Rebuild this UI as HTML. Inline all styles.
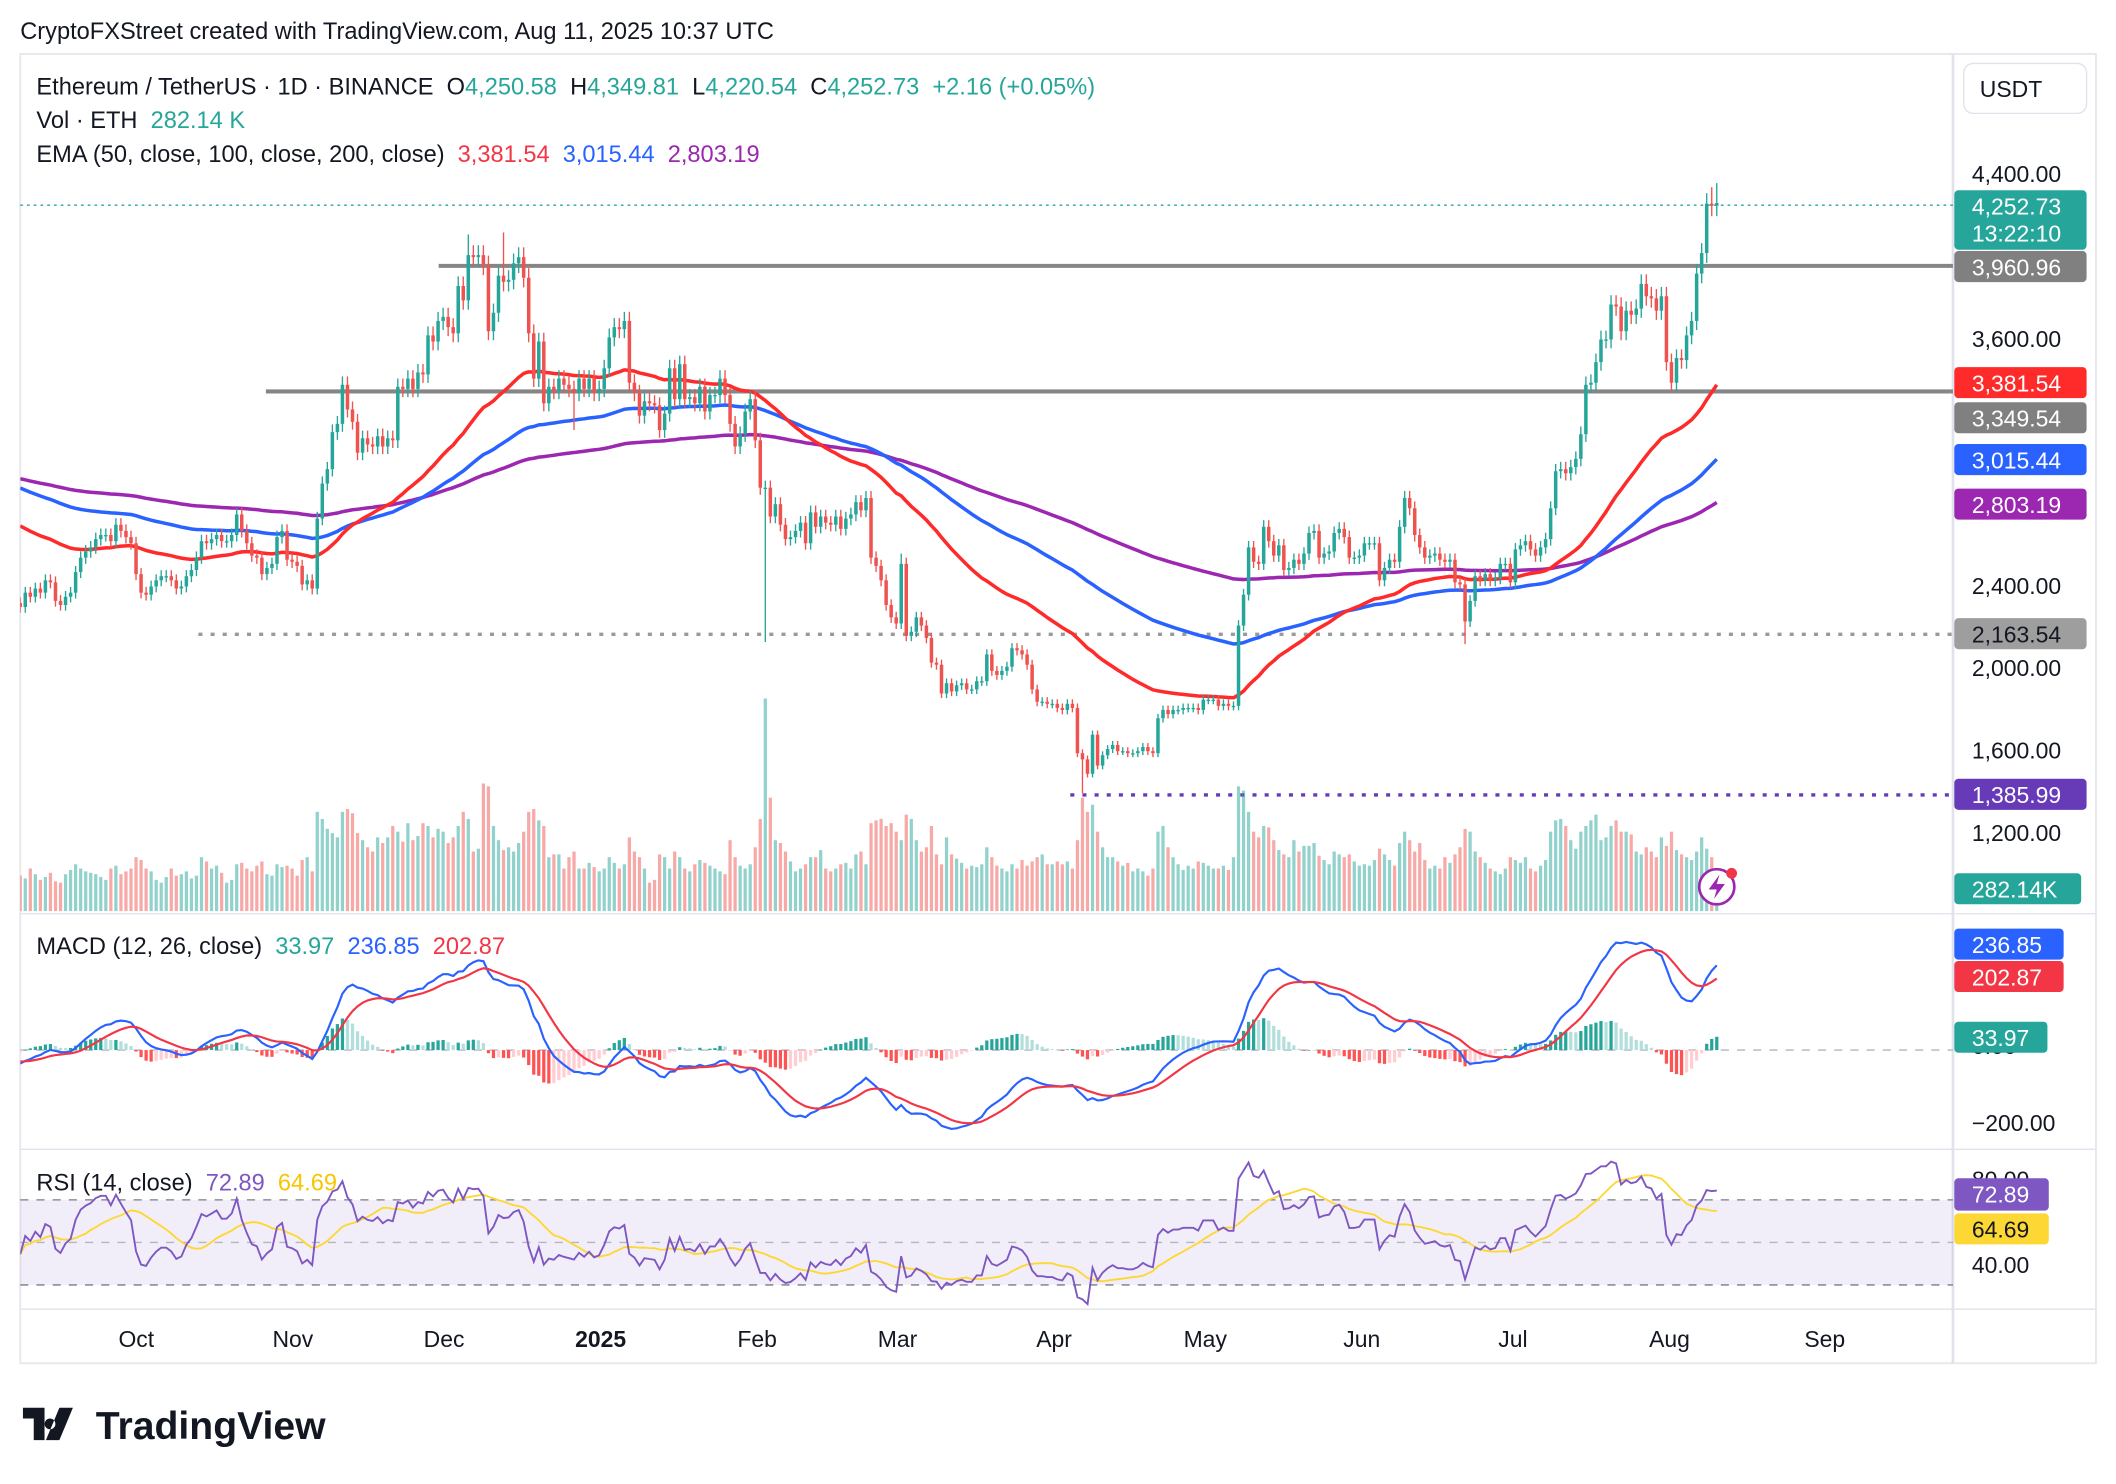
<!DOCTYPE html>
<html><head><meta charset="utf-8"><title>ETH/USDT chart</title>
<style>
html,body{margin:0;padding:0;background:#fff;}
svg{display:block;font-family:"Liberation Sans",sans-serif;}
svg text{white-space:pre;}
</style></head>
<body>
<svg id="chart" width="2116" height="1484" viewBox="0 0 1567.8 1099.5" preserveAspectRatio="none" xmlns="http://www.w3.org/2000/svg">
<defs>
<clipPath id="cpPrice"><rect x="15" y="41" width="1432" height="636"/></clipPath>
<clipPath id="cpMacd"><rect x="15" y="678" width="1432" height="173"/></clipPath>
<clipPath id="cpRsi"><rect x="15" y="852" width="1432" height="118"/></clipPath>
</defs>
<rect x="0" y="0" width="1580" height="1110" fill="#fff"/>
<text x="15" y="29" font-size="17.5" fill="#131722">CryptoFXStreet created with TradingView.com, Aug 11, 2025 10:37 UTC</text>
<rect x="15" y="40" width="1538" height="970" fill="none" stroke="#e8e9ed" stroke-width="1.5"/>
<line x1="1447" y1="40" x2="1447" y2="1010" stroke="#e0e3eb" stroke-width="2"/>
<line x1="15" y1="677" x2="1553" y2="677" stroke="#e0e3eb" stroke-width="1"/>
<line x1="15" y1="851.5" x2="1553" y2="851.5" stroke="#e0e3eb" stroke-width="1"/>
<line x1="15" y1="970" x2="1553" y2="970" stroke="#e0e3eb" stroke-width="1"/>

<rect x="15" y="889" width="1432" height="63" fill="#7e57c2" fill-opacity="0.1"/>
<g stroke="#787b86" stroke-width="1" stroke-dasharray="6,6">
<line x1="15" y1="889" x2="1447" y2="889"/><line x1="15" y1="920.5" x2="1447" y2="920.5" stroke-opacity="0.5"/><line x1="15" y1="952" x2="1447" y2="952"/>
</g>
<line x1="15" y1="778" x2="1447" y2="778" stroke="#b2b5be" stroke-width="1" stroke-dasharray="6,6"/>

<line x1="325" y1="197" x2="1447" y2="197" stroke="#868686" stroke-width="3"/>
<line x1="197" y1="290" x2="1447" y2="290" stroke="#868686" stroke-width="3"/>
<line x1="147" y1="470" x2="1447" y2="470" stroke="#9a9a9a" stroke-width="2.5" stroke-dasharray="3,6"/>
<line x1="793" y1="589" x2="1447" y2="589" stroke="#673ab7" stroke-width="2.5" stroke-dasharray="3,6"/>
<line x1="15" y1="152" x2="1447" y2="152" stroke="#26a69a" stroke-width="1" stroke-dasharray="2,3"/>

<g id="gVol" clip-path="url(#cpPrice)"></g>
<g id="gEma" clip-path="url(#cpPrice)"></g>
<g id="gCandle" clip-path="url(#cpPrice)"></g>
<g id="gMacd" clip-path="url(#cpMacd)"></g>
<g id="gRsi" clip-path="url(#cpRsi)"></g>

<text x="27" y="70" font-size="17.5" fill="#131722">Ethereum / TetherUS · 1D · BINANCE  O<tspan fill="#26a69a">4,250.58</tspan>  H<tspan fill="#26a69a">4,349.81</tspan>  L<tspan fill="#26a69a">4,220.54</tspan>  C<tspan fill="#26a69a">4,252.73</tspan>  <tspan fill="#26a69a">+2.16 (+0.05%)</tspan></text>
<text x="27" y="95" font-size="17.5" fill="#131722">Vol · ETH  <tspan fill="#26a69a">282.14 K</tspan></text>
<text x="27" y="120" font-size="17.5" fill="#131722">EMA (50, close, 100, close, 200, close)  <tspan fill="#f23645">3,381.54</tspan>  <tspan fill="#2962ff">3,015.44</tspan>  <tspan fill="#9c27b0">2,803.19</tspan></text>
<text x="27" y="707" font-size="17.5" fill="#131722">MACD (12, 26, close)  <tspan fill="#26a69a">33.97</tspan>  <tspan fill="#2962ff">236.85</tspan>  <tspan fill="#f23645">202.87</tspan></text>
<text x="27" y="882" font-size="17.5" fill="#131722">RSI (14, close)  <tspan fill="#7e57c2">72.89</tspan>  <tspan fill="#f7c600">64.69</tspan></text>

<rect x="1455" y="47" width="91" height="37" rx="7" fill="#fff" stroke="#e0e3eb"/>
<text x="1490" y="72" font-size="17" fill="#131722" text-anchor="middle">USDT</text>
<g font-size="17" fill="#131722">
<text x="1461" y="135">4,400.00</text><text x="1461" y="257">3,600.00</text><text x="1461" y="440">2,400.00</text><text x="1461" y="501">2,000.00</text><text x="1461" y="562">1,600.00</text><text x="1461" y="623">1,200.00</text>
<text x="1461" y="781">0.00</text><text x="1461" y="838">−200.00</text><text x="1461" y="880">80.00</text><text x="1461" y="943">40.00</text>
</g>
<g font-size="17" fill="#fff">
<rect x="1448" y="141" width="98" height="44" rx="3" fill="#26a69a"/><text x="1461" y="159">4,252.73</text><text x="1461" y="179">13:22:10</text>
<rect x="1448" y="186" width="98" height="23" rx="3" fill="#808080"/><text x="1461" y="204">3,960.96</text>
<rect x="1448" y="272" width="98" height="23" rx="3" fill="#ff2a2a"/><text x="1461" y="290">3,381.54</text>
<rect x="1448" y="298" width="98" height="23" rx="3" fill="#808080"/><text x="1461" y="316">3,349.54</text>
<rect x="1448" y="329" width="98" height="23" rx="3" fill="#2962ff"/><text x="1461" y="347">3,015.44</text>
<rect x="1448" y="362" width="98" height="23" rx="3" fill="#9c27b0"/><text x="1461" y="380">2,803.19</text>
<rect x="1448" y="458" width="98" height="23" rx="3" fill="#9e9e9e"/><text x="1461" y="476" fill="#131722">2,163.54</text>
<rect x="1448" y="577" width="98" height="23" rx="3" fill="#673ab7"/><text x="1461" y="595">1,385.99</text>
<rect x="1448" y="647" width="94" height="23" rx="3" fill="#26a69a"/><text x="1461" y="665">282.14K</text>
<rect x="1448" y="688" width="81" height="23" rx="3" fill="#2962ff"/><text x="1461" y="706">236.85</text>
<rect x="1448" y="712" width="81" height="23" rx="3" fill="#f23645"/><text x="1461" y="730">202.87</text>
<rect x="1448" y="757" width="69" height="23" rx="3" fill="#26a69a"/><text x="1461" y="775">33.97</text>
<rect x="1448" y="873" width="70" height="24" rx="3" fill="#7e57c2"/><text x="1461" y="891">72.89</text>
<rect x="1448" y="899" width="70" height="23" rx="3" fill="#fdd835"/><text x="1461" y="917" fill="#131722">64.69</text>
</g>

<g font-size="17" fill="#131722" text-anchor="middle">
<text x="101" y="998">Oct</text><text x="217" y="998">Nov</text><text x="329" y="998">Dec</text><text x="445" y="998" font-weight="bold">2025</text><text x="561" y="998">Feb</text><text x="665" y="998">Mar</text><text x="781" y="998">Apr</text><text x="893" y="998">May</text><text x="1009" y="998">Jun</text><text x="1121" y="998">Jul</text><text x="1237" y="998">Aug</text><text x="1352" y="998">Sep</text>
</g>

<g>
<circle cx="1272" cy="657" r="13" fill="#fff" stroke="#9c27b0" stroke-width="2"/>
<path d="M1274 648 L1266 659 L1272 659 L1270 666 L1278 655 L1272 655 Z" fill="#9c27b0"/>
<circle cx="1283" cy="647" r="4" fill="#f23645"/>
</g>

<g>
<path d="M17 1043 h16 v24 h-8 v-16 h-8 z M37 1051 a4 4 0 1 0 0.1 0 z M44 1043 h10 l-10 24 h-10 z" fill="#131722"/>
<text x="71" y="1066" font-size="29" font-weight="bold" fill="#131722">TradingView</text>
</g>
</svg>
<script>
const closes=[2290,2360,2340,2380,2360,2420,2410,2320,2300,2340,2360,2460,2530,2560,2580,2620,2640,2640,2610,2690,2660,2630,2600,
2450,2360,2350,2390,2420,2440,2440,2420,2380,2390,2440,2470,2530,2610,2600,2620,2640,2610,2610,2640,2740,2660,2600,2540,2530,2450,2480,2500,2630,2660,2520,
2510,2490,2400,2420,2380,2720,2890,2960,3140,3180,3370,3250,3190,3040,3110,3080,3070,3120,3070,3110,3100,3360,3350,3400,3350,3430,3420,3610,3580,3680,
3700,3650,3620,3850,3780,4000,3990,4000,3950,3630,3720,3900,3870,3880,3960,3990,3890,3620,3400,3580,3280,3360,3340,3400,3370,3350,3330,3400,3350,3400,3330,
3350,3450,3600,3650,3640,3680,3380,3330,3220,3290,3280,3270,3150,3230,3450,3300,3470,3300,3310,3280,3360,3240,3320,3320,3400,3320,3180,3070,3130,3240,3300,
3100,2870,2870,2730,2790,2690,2620,2630,2660,2700,2600,2750,2680,2730,2700,2690,2730,2670,2720,2740,2800,2760,2820,2530,2490,2420,2300,2240,
2210,2500,2150,2170,2240,2200,2140,2020,2010,1870,1920,1880,1910,1920,1890,1890,1930,1930,2060,1980,1960,1980,2000,2090,2080,2060,2010,1890,1830,1830,1820,
1820,1800,1790,1820,1800,1580,1550,1480,1670,1520,1570,1600,1620,1590,1590,1580,1580,1590,1610,1590,1580,1750,1790,1770,1790,1790,1800,1800,1800,1790,
1840,1840,1840,1810,1820,1810,1810,2200,2350,2580,2510,2500,2680,2610,2540,2590,2470,2480,2520,2500,2550,2650,2660,2530,2550,2560,2650,2670,2630,2530,2530,
2540,2600,2600,2600,2420,2480,2520,2510,2680,2820,2770,2640,2580,2530,2540,2550,2520,2510,2520,2410,2400,2220,2320,2440,2420,2450,2420,2430,2500,2500,
2410,2570,2590,2610,2570,2540,2580,2620,2770,2950,2960,2940,2970,3010,3130,3370,3380,3480,3590,3590,3760,3750,3630,3730,3710,3740,3860,3800,3790,3730,3800,
3480,3380,3500,3490,3610,3680,3910,4010,4250,4240,4252.73];
const volumes=[250,230,300,260,220,240,270,210,200,260,290,330,300,280,270,260,240,220,300,320,260,280,300,
380,360,300,280,220,200,240,300,250,260,280,230,250,380,350,300,320,270,200,220,330,340,300,280,320,350,260,250,330,310,320,
300,250,360,380,280,700,650,580,550,520,700,720,690,550,500,450,420,520,480,520,600,560,490,620,500,530,620,600,520,580,
560,480,520,600,700,650,420,440,900,880,600,500,430,450,420,480,560,700,720,640,600,380,400,400,300,380,420,300,300,340,310,
280,300,380,340,300,330,520,420,380,300,200,220,400,380,300,420,380,300,280,330,360,340,320,300,280,260,500,380,320,300,330,
450,650,1500,800,500,480,420,350,280,300,330,380,380,430,300,280,300,330,340,300,400,420,330,620,640,650,600,620,
560,500,680,650,500,420,450,600,400,330,520,400,370,340,300,320,310,330,450,380,320,300,280,330,300,360,320,350,380,400,330,
330,350,330,350,300,500,800,700,750,560,450,380,380,350,320,340,280,300,280,250,300,560,600,450,380,330,290,320,300,350,
340,320,300,300,320,290,380,880,850,700,560,520,600,590,500,430,400,380,500,420,460,460,480,390,360,330,420,400,380,400,350,
320,330,320,360,440,400,360,320,480,560,500,420,480,360,300,320,300,380,340,400,450,580,560,420,380,340,300,280,260,300,
380,360,340,380,300,280,320,360,560,640,650,600,500,440,560,600,640,680,500,520,600,640,560,560,540,420,400,450,420,380,520,
460,560,430,400,380,360,420,520,440,380,282];
const wickLows={148:2120,211:1386,287:2110,110:3150};
const wickHighs={175:2550,337:4349.81,336:4330,89:4100,96:4110};
const firstOpen=2310;
const emaSeeds=[2700,2880,2920];

const NS='http://www.w3.org/2000/svg';
const N=Math.min(closes.length,volumes.length);
function xOf(i){return 15+i*(1257/337);}
function yP(p){return 128+(4400-p)*0.1525;}
function yV(v){return 675-v*0.105;}
function yM(v){return 778-v*0.265;}
function yR(v){return 889+(70-v)*1.575;}
function mk(tag,attrs,parent){const e=document.createElementNS(NS,tag);for(const k in attrs)e.setAttribute(k,attrs[k]);parent.appendChild(e);return e;}

const gVol=document.getElementById('gVol'),gC=document.getElementById('gCandle'),gE=document.getElementById('gEma'),gM=document.getElementById('gMacd'),gR=document.getElementById('gRsi');
const opens=[];
for(let i=0;i<N;i++){opens.push(i===0?firstOpen:closes[i-1]);}
for(let i=0;i<N;i++){
  const o=opens[i],c=closes[i],up=c>=o,x=xOf(i);
  const col=up?'#26a69a':'#ef5350';
  const hi=wickHighs[i]!==undefined?wickHighs[i]:Math.max(o,c)*1.012;
  const lo=wickLows[i]!==undefined?wickLows[i]:Math.min(o,c)*0.988;
  const vb=mk('rect',{x:x-1.2,y:yV(volumes[i]),width:2.4,height:675-yV(volumes[i]),fill:up?'#26a69a':'#ef5350','fill-opacity':0.5},gVol);
  
  
  const w=mk('line',{x1:x,x2:x,y1:yP(hi),y2:yP(lo),stroke:col,'stroke-width':1},gC);
  
  
  const top=yP(Math.max(o,c)),bot=yP(Math.min(o,c));
  const b=mk('rect',{x:x-1.3,y:top,width:2.6,height:Math.max(1,bot-top),fill:col},gC);
  
  
}
function ema(arr,len,seed){const k=2/(len+1);const out=[];let e=seed;for(let i=0;i<arr.length;i++){e=arr[i]*k+e*(1-k);out.push(e);}return out;}
const emaCols=['#ff2a2a','#2962ff','#9c27b0'],emaLens=[50,100,200],emaNames=['ema-50-line','ema-100-line','ema-200-line'];
for(let j=2;j>=0;j--){
  const v=ema(closes.slice(0,N),emaLens[j],emaSeeds[j]);
  const d=v.map((p,i)=>(i?'L':'M')+xOf(i).toFixed(1)+' '+yP(p).toFixed(1)).join(' ');
  const pth=mk('path',{d:d,fill:'none',stroke:emaCols[j],'stroke-width':2.6,'stroke-linejoin':'round'},gE);
  
  
}
const e12=ema(closes.slice(0,N),12,2300),e26=ema(closes.slice(0,N),26,2340);
const macd=e12.map((v,i)=>v-e26[i]);
const sig=ema(macd,9,-30);
for(let i=0;i<N;i++){
  const h=macd[i]-sig[i],ph=i?macd[i-1]-sig[i-1]:h;
  const col=h>=0?(h>=ph?'#26a69a':'#b2dfdb'):(h<ph?'#ff5252':'#ffcdd2');
  const y1=yM(Math.max(h,0)),y2=yM(Math.min(h,0));
  const hb=mk('rect',{x:xOf(i)-1.2,y:y1,width:2.4,height:Math.max(0.5,y2-y1),fill:col},gM);
  
  
}
const mpath=mk('path',{d:macd.map((v,i)=>(i?'L':'M')+xOf(i).toFixed(1)+' '+yM(v).toFixed(1)).join(' '),fill:'none',stroke:'#2962ff','stroke-width':1.6},gM);


const spath=mk('path',{d:sig.map((v,i)=>(i?'L':'M')+xOf(i).toFixed(1)+' '+yM(v).toFixed(1)).join(' '),fill:'none',stroke:'#f23645','stroke-width':1.6},gM);


const rsi=[];let ag=14,al=16;
for(let i=0;i<N;i++){const ch=closes[i]-(i?closes[i-1]:firstOpen);ag=(ag*13+Math.max(ch,0))/14;al=(al*13+Math.max(-ch,0))/14;rsi.push(100-100/(1+ag/Math.max(al,1e-6)));}
const rsiMa=rsi.map((v,i)=>{const s=rsi.slice(Math.max(0,i-13),i+1);return s.reduce((a,b)=>a+b,0)/s.length;});
const rm=mk('path',{d:rsiMa.map((v,i)=>(i?'L':'M')+xOf(i).toFixed(1)+' '+yR(v).toFixed(1)).join(' '),fill:'none',stroke:'#fdd835','stroke-width':1.4},gR);


const rl=mk('path',{d:rsi.map((v,i)=>(i?'L':'M')+xOf(i).toFixed(1)+' '+yR(v).toFixed(1)).join(' '),fill:'none',stroke:'#7e57c2','stroke-width':1.4},gR);


</script>
</body></html>
